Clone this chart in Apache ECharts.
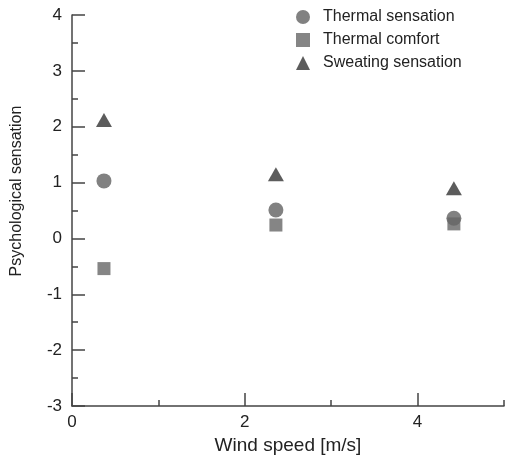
<!DOCTYPE html>
<html>
<head>
<meta charset="utf-8">
<script src="https://cdn.jsdelivr.net/npm/echarts@6/dist/echarts.min.js"></script>
<style>
html,body{margin:0;padding:0;background:#fff;}
#main{width:505px;height:455px;}
</style>
</head>
<body>
<div id="main"></div>
<script>
// 风速 [m/s]
var windSpeed = [0.37, 2.36, 4.42];
// 各项感觉值
var thermalSensation = [1.03, 0.51, 0.36];
var thermalComfort = [-0.54, 0.24, 0.26];
var sweatingSensation = [2.12, 1.15, 0.90];
var xLabels = [0, 2, 4];
var seriesNames = ['Thermal sensation', 'Thermal comfort', 'Sweating sensation'];

function pairs(ys){
	var out = [];
	for (var i = 0; i < windSpeed.length; i++) out.push([windSpeed[i], ys[i]]);
	return out;
}

var font = 'Liberation Sans, Arial, sans-serif';
var axisColor = '#444';
var textColor = '#222';

var chart = echarts.init(document.getElementById('main'));
var option = {
	animation: false,
	textStyle: {fontFamily: font},
	grid: {left: 72, right: 1, top: 15, bottom: 49, containLabel: false, outerBoundsMode: 'none'},
	legend: {
		orient: 'vertical',
		left: 291,
		top: 4,
		itemWidth: 14,
		itemHeight: 14,
		itemGap: 7,
		textStyle: {fontSize: 16, color: textColor, fontFamily: font, padding: [0, 0, 0, 8]},
		data: seriesNames
	},
	xAxis: [{
		type: 'value',
		min: 0,
		max: 5,
		interval: 1,
		splitLine: {show: false},
		axisLine: {onZero: false, lineStyle: {color: axisColor, width: 1.5}},
		axisTick: {inside: true, length: 6, lineStyle: {color: axisColor, width: 1.5}},
		axisLabel: {
			customValues: xLabels,
			margin: 8,
			fontSize: 17,
			color: textColor,
			fontFamily: font
		},
		name: 'Wind speed [m/s]',
		nameLocation: 'middle',
		nameGap: 22,
		nameTextStyle: {fontSize: 19, color: textColor, fontFamily: font}
	}, {
		type: 'value',
		position: 'bottom',
		min: 0,
		max: 5,
		interval: 1,
		splitLine: {show: false},
		axisLine: {show: false, onZero: false},
		axisTick: {inside: true, length: 13, customValues: xLabels, lineStyle: {color: axisColor, width: 1.5}},
		axisLabel: {show: false}
	}],
	yAxis: {
		type: 'value',
		min: -3,
		max: 4,
		interval: 1,
		splitLine: {show: false},
		axisLine: {onZero: false, lineStyle: {color: axisColor, width: 1.5}},
		axisTick: {inside: true, length: 13, lineStyle: {color: axisColor, width: 1.5}},
		minorTick: {show: true, splitNumber: 2, length: 6, lineStyle: {color: axisColor, width: 1.5}},
		axisLabel: {margin: 10, fontSize: 17, color: textColor, fontFamily: font},
		name: 'Psychological sensation',
		nameLocation: 'middle',
		nameGap: 47,
		nameRotate: 90,
		nameTextStyle: {fontSize: 16, color: textColor, fontFamily: font, padding: [0, 0, 0, 39]}
	},
	series: [{
		name: seriesNames[0],
		type: 'scatter',
		symbol: 'circle',
		symbolSize: 15,
		itemStyle: {color: '#626262'},
		data: pairs(thermalSensation)
	}, {
		name: seriesNames[1],
		type: 'scatter',
		symbol: 'rect',
		symbolSize: 13,
		itemStyle: {color: '#676767'},
		data: pairs(thermalComfort)
	}, {
		name: seriesNames[2],
		type: 'scatter',
		symbol: 'triangle',
		symbolSize: [16, 14],
		itemStyle: {color: '#333'},
		data: pairs(sweatingSensation)
	}]
};
chart.setOption(option);
</script>
</body>
</html>
